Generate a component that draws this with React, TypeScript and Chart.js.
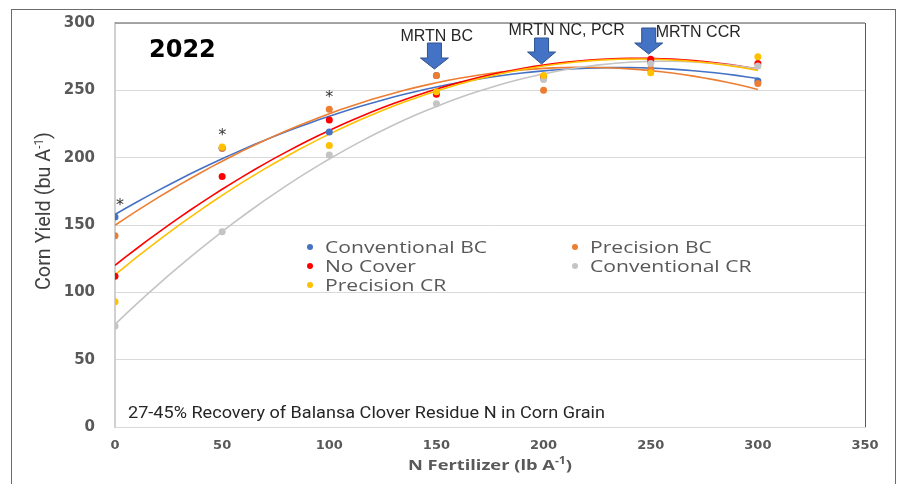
import React, { useEffect, useRef } from 'react';
import { Chart, registerables } from 'chart.js';
Chart.register(...registerables);

// ---- data ----
const nRates = [0, 50, 100, 150, 200, 250, 300];
const conventionalBC = [156, 207, 219, 261, 259, 271, 257];
const precisionBC = [142, 207, 236, 261, 250, 266, 255];
const noCover = [112, 186, 228, 247, 260, 273, 270];
const conventionalCR = [75, 145, 202, 240, 258, 270, 268];
const precisionCR = [93, 208, 209, 249, 261, 263, 275];
const seriesNames = ['Conventional BC', 'Precision BC', 'No Cover', 'Conventional CR', 'Precision CR'];
const seriesValues = [conventionalBC, precisionBC, noCover, conventionalCR, precisionCR];
const seriesColors = ['#4472C4', '#ED7D31', '#FF0000', '#C4C4C4', '#FFC000'];
const xTicks = [0, 50, 100, 150, 200, 250, 300, 350];
const yTicks = [0, 50, 100, 150, 200, 250, 300];
const yearLabel = '2022';
const mrtnRates = [150, 200, 250];
const mrtnLabels = ['MRTN BC', 'MRTN NC, PCR', 'MRTN CCR'];
const significantRates = [0, 50, 100];
const footnote = '27-45% Recovery of Balansa Clover Residue N in Corn Grain';
const yTitle = ['Corn Yield (bu A', '-1', ')'];
const xTitle = ['N Fertilizer (lb A', '-1', ')'];

// quadratic least-squares trendline (like Excel's polynomial order 2)
function quadFit(xs: number[], ys: number[]) {
  let s0 = 0, s1 = 0, s2 = 0, s3 = 0, s4 = 0, t0 = 0, t1 = 0, t2 = 0;
  for (let i = 0; i < xs.length; i++) {
    const x = xs[i], y = ys[i];
    s0 += 1; s1 += x; s2 += x * x; s3 += x * x * x; s4 += x * x * x * x;
    t0 += y; t1 += x * y; t2 += x * x * y;
  }
  const A = [[s0, s1, s2, t0], [s1, s2, s3, t1], [s2, s3, s4, t2]];
  for (let c = 0; c < 3; c++) {
    for (let r = c + 1; r < 3; r++) {
      const f = A[r][c] / A[c][c];
      for (let k = c; k < 4; k++) A[r][k] -= f * A[c][k];
    }
  }
  const coef = [0, 0, 0];
  for (let r = 2; r >= 0; r--) {
    let s = A[r][3];
    for (let k = r + 1; k < 3; k++) s -= A[r][k] * coef[k];
    coef[r] = s / A[r][r];
  }
  return (x: number) => coef[0] + coef[1] * x + coef[2] * x * x;
}

function drawSupText(ctx: CanvasRenderingContext2D, parts: string[], font: string, supFont: string,
  cx: number, cy: number, rot: number, color: string, targetW: number) {
  ctx.save();
  ctx.translate(cx, cy);
  ctx.rotate(rot);
  ctx.fillStyle = color;
  ctx.textBaseline = 'middle';
  ctx.textAlign = 'left';
  ctx.font = font;
  const w0 = ctx.measureText(parts[0]).width;
  const w2 = ctx.measureText(parts[2]).width;
  ctx.font = supFont;
  const w1 = ctx.measureText(parts[1]).width;
  const total = w0 + w1 + w2;
  const sx = targetW / total;
  ctx.scale(sx, 1);
  let x = -total / 2;
  ctx.font = font;
  ctx.fillText(parts[0], x, 0);
  x += w0;
  ctx.font = supFont;
  ctx.fillText(parts[1], x, -5);
  x += w1;
  ctx.font = font;
  ctx.fillText(parts[2], x, 0);
  ctx.restore();
}

function fillScaled(ctx: CanvasRenderingContext2D, text: string, x: number, y: number, sx: number) {
  ctx.save();
  ctx.translate(x, y);
  ctx.scale(sx, 1);
  ctx.fillText(text, 0, 0);
  ctx.restore();
}

const overlayPlugin = {
  id: 'overlay',
  afterDatasetsDraw(chart: any) {
    const { ctx, chartArea: ca, scales } = chart;
    const xs = scales.x, ys = scales.y;
    ctx.save();
    // outer frame
    ctx.strokeStyle = '#6b6b6b';
    ctx.lineWidth = 1;
    ctx.strokeRect(11.5, 9.5, 884, 500);
    // plot-area frame top & right
    ctx.strokeStyle = '#8c8c8c';
    ctx.lineWidth = 1.5;
    ctx.beginPath();
    ctx.moveTo(ca.left, ca.top);
    ctx.lineTo(ca.right, ca.top);
    ctx.stroke();
    ctx.strokeStyle = '#595959';
    ctx.lineWidth = 1;
    ctx.beginPath();
    ctx.moveTo(ca.right + 0.5, ca.top);
    ctx.lineTo(ca.right + 0.5, ca.bottom);
    ctx.stroke();

    // year label
    ctx.fillStyle = '#000000';
    ctx.font = 'bold 24px "DejaVu Sans", sans-serif';
    ctx.textAlign = 'left';
    ctx.textBaseline = 'middle';
    ctx.fillText(yearLabel, 149, 51);

    // significance asterisks
    ctx.fillStyle = '#333333';
    ctx.font = '16px "DejaVu Sans", sans-serif';
    ctx.textAlign = 'center';
    significantRates.forEach((r) => {
      const i = nRates.indexOf(r);
      const top = Math.max(...seriesValues.map((s) => s[i]));
      const px = xs.getPixelForValue(r) + (r === 0 ? 5 : 0);
      const py = ys.getPixelForValue(top) - 11;
      ctx.fillText('*', px, py);
    });

    // MRTN labels and arrows
    const labelOffsets = [[-36, 37], [-35, 31], [5, 33]];
    const arrowTops = [[43, 58, 69], [38, 52, 64], [28, 43, 54]];
    ctx.font = '16px "Liberation Sans", Arial, sans-serif';
    ctx.textAlign = 'left';
    ctx.fillStyle = '#262626';
    mrtnRates.forEach((r, i) => {
      const px = xs.getPixelForValue(r);
      ctx.fillText(mrtnLabels[i], px + labelOffsets[i][0], labelOffsets[i][1]);
    });
    mrtnRates.forEach((r, i) => {
      const px = xs.getPixelForValue(r) - 2;
      const [t, h, b] = arrowTops[i];
      ctx.beginPath();
      ctx.moveTo(px - 7, t);
      ctx.lineTo(px + 7, t);
      ctx.lineTo(px + 7, h);
      ctx.lineTo(px + 14, h);
      ctx.lineTo(px, b);
      ctx.lineTo(px - 14, h);
      ctx.lineTo(px - 7, h);
      ctx.closePath();
      ctx.fillStyle = '#4472C4';
      ctx.fill();
      ctx.strokeStyle = '#2F528F';
      ctx.lineWidth = 1;
      ctx.stroke();
    });

    // legend inside plot
    const colX = [310, 575];
    const rowY = [247, 266, 285];
    ctx.font = '17px "Open Sans", sans-serif';
    ctx.textBaseline = 'middle';
    ctx.textAlign = 'left';
    chart.data.datasets.forEach((ds: any, i: number) => {
      if (ds.type === 'line') return;
      const c = i % 2, r = Math.floor(i / 2);
      ctx.beginPath();
      ctx.arc(colX[c], rowY[r], 3, 0, Math.PI * 2);
      ctx.fillStyle = ds.backgroundColor;
      ctx.fill();
      ctx.fillStyle = '#595959';
      fillScaled(ctx, ds.label, colX[c] + 15, rowY[r] + 1, 1.24);
    });

    // footnote
    ctx.fillStyle = '#262626';
    ctx.font = '16px "Liberation Sans Narrow", "Arial Narrow", "Roboto", sans-serif';
    ctx.textAlign = 'left';
    const fw = ctx.measureText(footnote).width;
    fillScaled(ctx, footnote, 128, 414, 477 / fw);

    // axis titles
    drawSupText(ctx, yTitle, '20px "Liberation Sans Narrow", "Arial Narrow", "Roboto", sans-serif',
      '12px "Liberation Sans Narrow", "Arial Narrow", "Roboto", sans-serif', 45, 211, -Math.PI / 2, '#404040', 158);
    drawSupText(ctx, xTitle, 'bold 15px "Open Sans", sans-serif', 'bold 10px "Open Sans", sans-serif',
      490, 466, 0, '#595959', 164);
    ctx.restore();
  },
};

export default function App() {
  const ref = useRef<HTMLCanvasElement | null>(null);
  useEffect(() => {
    if (!ref.current) return;
    const scatterSets = seriesNames.map((name, i) => ({
      type: 'scatter' as const,
      label: name,
      data: nRates.map((x, j) => ({ x, y: seriesValues[i][j] })),
      backgroundColor: seriesColors[i],
      borderColor: seriesColors[i],
      pointRadius: 3.5,
      pointBorderWidth: 0,
      showLine: false,
      order: 5 - i,
    }));
    const lineSets = seriesNames.map((name, i) => {
      const f = quadFit(nRates, seriesValues[i]);
      const pts: { x: number; y: number }[] = [];
      for (let x = nRates[0]; x <= nRates[nRates.length - 1]; x += 5) pts.push({ x, y: f(x) });
      return {
        type: 'line' as const,
        label: name + ' trend',
        data: pts,
        borderColor: seriesColors[i],
        borderWidth: 1.6,
        pointRadius: 0,
        tension: 0,
        fill: false,
        order: 20 - i,
      };
    });
    const chart = new Chart(ref.current, {
      type: 'scatter',
      data: { datasets: [...scatterSets, ...lineSets] as any },
      options: {
        responsive: false,
        animation: false,
        layout: { padding: { top: 23, right: 36, left: 0, bottom: 0 } },
        plugins: { legend: { display: false }, tooltip: { enabled: false }, title: { display: false } },
        scales: {
          x: {
            type: 'linear',
            min: 0,
            max: 350,
            afterBuildTicks: (s: any) => { s.ticks = xTicks.map((v) => ({ value: v })); },
            afterFit: (s: any) => { s.height = 57; },
            ticks: { padding: 11, maxRotation: 0, color: '#595959', font: { family: 'DejaVu Sans', weight: 'bold', size: 13 } },
            grid: { display: false, drawTicks: false },
            border: { display: true, color: '#d9d9d9', width: 1 },
          },
          y: {
            type: 'linear',
            min: 0,
            max: 300,
            afterBuildTicks: (s: any) => { s.ticks = yTicks.map((v) => ({ value: v })); },
            afterFit: (s: any) => { s.width = 115; },
            ticks: { padding: 2, color: '#595959', font: { family: 'DejaVu Sans', weight: 'bold', size: 15 } },
            grid: { color: '#d9d9d9', drawTicks: true, tickLength: 18, tickColor: 'rgba(0,0,0,0)', lineWidth: 1 },
            border: { display: true, color: '#d0d0d0', width: 2 },
          },
        },
      },
      plugins: [overlayPlugin],
    });
    return () => chart.destroy();
  }, []);
  return (
    <div style={{ position: 'fixed', left: 0, top: 0, width: 901, height: 484, background: '#ffffff' }}>
      <canvas ref={ref} width={901} height={484} style={{ display: 'block' }} />
    </div>
  );
}
